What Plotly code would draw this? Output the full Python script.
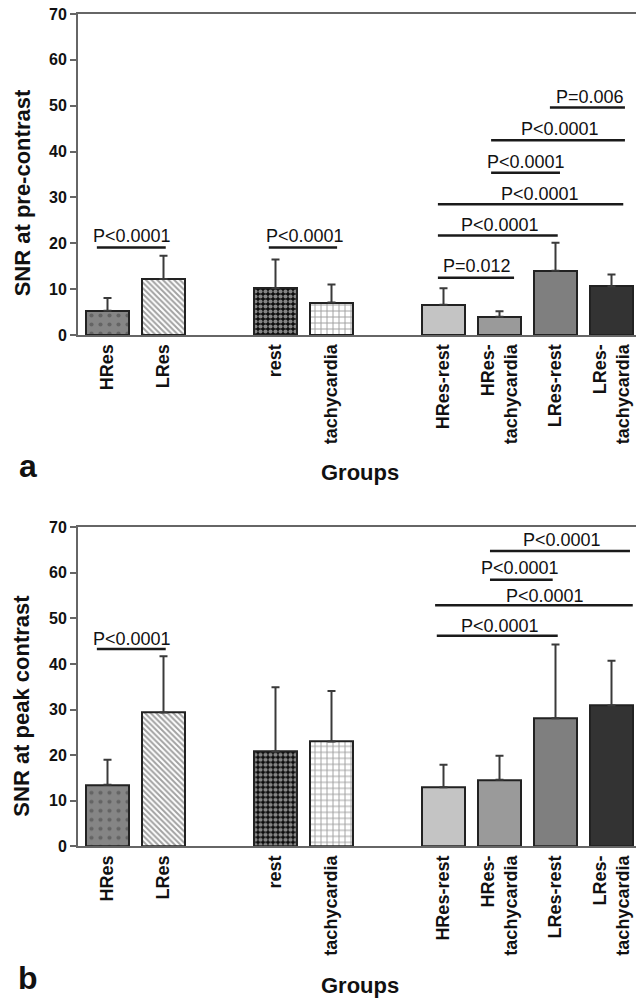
import plotly.graph_objects as go

# ---------------- data ----------------
categories = ["HRes", "LRes", "rest", "tachycardia",
              "HRes-rest", "HRes-tachycardia", "LRes-rest", "LRes-tachycardia"]
tick_labels = ["HRes", "LRes", "rest", "tachycardia",
               "HRes-rest", "HRes-<br>tachycardia", "LRes-rest", "LRes-<br>tachycardia"]
slot_positions = [0, 1, 3, 4, 6, 7, 8, 9]

snr_pre_mean = [5.3, 12.2, 10.2, 7.1, 6.6, 4.0, 14.0, 10.6]
snr_pre_sd = [2.8, 5.1, 6.3, 3.9, 3.6, 1.2, 6.1, 2.6]
snr_peak_mean = [13.5, 29.4, 20.8, 23.0, 13.0, 14.6, 28.1, 30.9]
snr_peak_sd = [5.5, 12.3, 14.1, 11.1, 4.9, 5.3, 16.2, 9.8]

# significance brackets: (label, x_start, x_end, y_line, x_text, y_text) in slot/value units
pre_brackets = [
    ("P<0.0001", -0.19, 1.04, 19.1, 0.44, 21.6),
    ("P<0.0001", 2.88, 4.10, 19.1, 3.52, 21.6),
    ("P=0.012", 5.90, 7.26, 12.5, 6.60, 15.1),
    ("P<0.0001", 5.90, 8.04, 21.7, 7.01, 24.0),
    ("P<0.0001", 5.90, 9.21, 28.5, 7.72, 30.8),
    ("P<0.0001", 6.85, 8.08, 35.4, 7.47, 37.8),
    ("P<0.0001", 6.85, 9.24, 42.5, 8.08, 44.9),
    ("P=0.006", 7.90, 9.24, 49.6, 8.62, 52.0),
]
peak_brackets = [
    ("P<0.0001", -0.19, 1.04, 43.3, 0.44, 45.5),
    ("P<0.0001", 6.83, 9.33, 64.8, 8.12, 67.2),
    ("P<0.0001", 6.83, 7.95, 58.5, 7.37, 61.0),
    ("P<0.0001", 5.85, 9.38, 52.9, 7.81, 54.9),
    ("P<0.0001", 5.88, 8.04, 46.2, 7.01, 48.3),
]

# ---------------- styles ----------------
bar_colors = ["#858585", "#ffffff", "#0d0d0d", "#ffffff", "#c4c4c4", "#9a9a9a", "#7f7f7f", "#333333"]
pat_shapes = [".", "\\", ".", "+", "", "", "", ""]
pat_fg = ["#ffffff", "#111111", "#ffffff", "#222222", "#000000", "#000000", "#000000", "#000000"]
pat_size = [9, 4, 5, 6, 8, 8, 8, 8]
pat_solid = [0.17, 0.5, 0.55, 0.3, 0.3, 0.3, 0.3, 0.3]

W, H = 636, 1007
ML, MT = 78, 14
PW, PH = W - ML, H - MT


def px2paper(px):
    return (px - ML) / PW


def py2paper(py):
    return (H - py) / PH


FONT = "Liberation Sans, Arial, sans-serif"

fig = go.Figure()

for mean, sd, xa, ya in [(snr_pre_mean, snr_pre_sd, "x", "y"),
                         (snr_peak_mean, snr_peak_sd, "x2", "y2")]:
    fig.add_trace(go.Bar(
        x=slot_positions, y=mean, width=0.78, xaxis=xa, yaxis=ya,
        marker=dict(color=bar_colors, line=dict(color="#222222", width=2),
                    pattern=dict(shape=pat_shapes, fgcolor=pat_fg, bgcolor=bar_colors,
                                 size=pat_size, solidity=pat_solid, fillmode="overlay")),
        error_y=dict(type="data", array=sd, arrayminus=[0] * len(sd), symmetric=False,
                     color="#3a3a3a", thickness=2, width=4),
        showlegend=False, hoverinfo="skip",
    ))

shapes = []
annotations = []
for brackets, xr, yr in [(pre_brackets, "x", "y"), (peak_brackets, "x2", "y2")]:
    for label, x0, x1, yl, xt, yt in brackets:
        shapes.append(dict(type="line", xref=xr, yref=yr, x0=x0, x1=x1, y0=yl, y1=yl,
                           line=dict(color="#1a1a1a", width=2.5)))
        annotations.append(dict(xref=xr, yref=yr, x=xt, y=yt, text=label, showarrow=False,
                                xanchor="center", yanchor="middle",
                                font=dict(family=FONT, size=18, color="#111111")))

# axis titles and panel letters
for title, ty, letter, ly, gy in [("SNR at pre-contrast", 195, "a", 470, 477),
                                  ("SNR at peak contrast", 712, "b", 987, 994)]:
    annotations.append(dict(xref="paper", yref="paper", x=px2paper(22), y=py2paper(ty),
                            text="<b>%s</b>" % title, textangle=-90, showarrow=False,
                            xanchor="center", yanchor="middle",
                            font=dict(family=FONT, size=22, color="#111111")))
    annotations.append(dict(xref="paper", yref="paper", x=px2paper(28), y=py2paper(ly),
                            text="<b>%s</b>" % letter, showarrow=False,
                            xanchor="center", yanchor="middle",
                            font=dict(family=FONT, size=32, color="#111111")))
    annotations.append(dict(xref="paper", yref="paper", x=px2paper(360), y=py2paper(gy),
                            text="<b>Groups</b>", showarrow=False,
                            xanchor="center", yanchor="middle",
                            font=dict(family=FONT, size=22, color="#111111")))

xrange = [(ML - 107.5) / 56.0, (W - 107.5) / 56.0]
xaxis_common = dict(range=xrange, tickvals=slot_positions, ticktext=tick_labels,
                    tickangle=-90, ticks="", showline=True, linecolor="#666666", linewidth=2,
                    mirror=True, showgrid=False, zeroline=False,
                    tickfont=dict(family=FONT, size=18, color="#111111", weight="bold"))
yaxis_common = dict(range=[0, 70], dtick=10, ticks="outside", ticklen=6, tickwidth=2,
                    tickcolor="#666666", showline=True, linecolor="#666666", linewidth=2,
                    showgrid=False, zeroline=False,
                    tickfont=dict(family=FONT, size=16, color="#111111", weight="bold"))

fig.update_layout(
    width=W, height=H,
    margin=dict(l=ML, r=0, t=MT, b=0, pad=0),
    paper_bgcolor="white", plot_bgcolor="white",
    xaxis=dict(domain=[0, 1], anchor="y", **xaxis_common),
    yaxis=dict(domain=[py2paper(338), py2paper(14)], anchor="x", **yaxis_common),
    xaxis2=dict(domain=[0, 1], anchor="y2", **xaxis_common),
    yaxis2=dict(domain=[py2paper(854), py2paper(532)], anchor="x2", **yaxis_common),
    shapes=shapes, annotations=annotations,
    bargap=0,
)

fig.write_html("out.html")
